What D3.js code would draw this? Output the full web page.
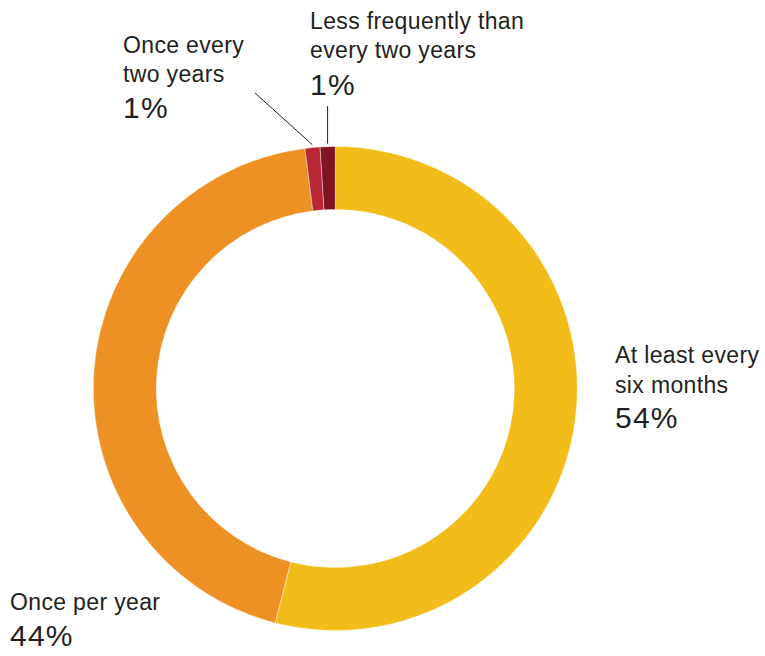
<!DOCTYPE html>
<html>
<head>
<meta charset="utf-8">
<script src="https://cdn.jsdelivr.net/npm/d3@7/dist/d3.min.js"></script>
<style>
  html, body { margin: 0; padding: 0; background: #fff; }
  svg text { font-family: "Liberation Sans", Arial, Helvetica, sans-serif; fill: #231f20; }
</style>
</head>
<body>
<svg id="chart" width="765" height="656"></svg>
<script>
// Survey answers, clockwise from 12 o'clock
const categories = [
  "At least every six months",
  "Once per year",
  "Once every two years",
  "Less frequently than every two years"
];
const shares = [54, 44, 1, 1];
const colors = ["#f2bd1b", "#ee9124", "#ba2836", "#7f1522"];

// Label text broken into lines, plus the percentage shown underneath
const labelLines = [
  ["At least every", "six months"],
  ["Once per year"],
  ["Once every", "two years"],
  ["Less frequently than", "every two years"]
];
const labelValues = shares.map(v => v + "%");

const svg = d3.select("#chart");
const cx = 335.3, cy = 388.5;
const outerR = 242, innerR = 179;

const data = categories.map((c, i) => ({ name: c, value: shares[i], color: colors[i], lines: labelLines[i], pct: labelValues[i] }));

const pie = d3.pie().value(d => d.value).sort(null);
const arc = d3.arc().innerRadius(innerR).outerRadius(outerR);
const arcs = pie(data);

const g = svg.append("g").attr("transform", `translate(${cx},${cy})`);

g.selectAll("path.slice")
  .data(arcs)
  .join("path")
  .attr("class", "slice")
  .attr("d", arc)
  .attr("fill", d => d.data.color)
  .attr("stroke", "rgba(255,255,255,0.55)")
  .attr("stroke-width", 0.7);

// Label blocks: left x, first-line baseline, line step, percentage baseline
const labelLayout = [
  { x: 615, y: 363, step: 30, pctY: 428 },
  { x: 10,  y: 610, step: 30, pctY: 646 },
  { x: 123, y: 53,  step: 29, pctY: 118 },
  { x: 310, y: 29,  step: 29, pctY: 95 }
];

data.forEach((d, i) => {
  const L = labelLayout[i];
  const t = svg.append("text")
    .attr("x", L.x)
    .attr("y", L.y)
    .style("font-size", "23px")
    .style("letter-spacing", "0.35px");
  d.lines.forEach((line, j) => {
    t.append("tspan").attr("x", L.x).attr("y", L.y + j * L.step).text(line);
  });
  svg.append("text")
    .attr("x", L.x)
    .attr("y", L.pctY)
    .style("font-size", "30px")
    .style("letter-spacing", "1.2px")
    .text(d.pct);
});

// Leader lines from the two small slices up to their labels
const leaderR = outerR + 3;
function pointAt(a, r) {
  return [cx + r * Math.sin(a), cy - r * Math.cos(a)];
}
const midAngle = a => (a.startAngle + a.endAngle) / 2;

const redEnd = pointAt(midAngle(arcs[2]), leaderR);
svg.append("line")
  .attr("x1", 255).attr("y1", 93)
  .attr("x2", redEnd[0]).attr("y2", redEnd[1])
  .attr("stroke", "#231f20").attr("stroke-width", 1);

const darkEnd = pointAt(midAngle(arcs[3]), leaderR);
svg.append("line")
  .attr("x1", darkEnd[0]).attr("y1", 106)
  .attr("x2", darkEnd[0]).attr("y2", darkEnd[1])
  .attr("stroke", "#231f20").attr("stroke-width", 1);
</script>
</body>
</html>
